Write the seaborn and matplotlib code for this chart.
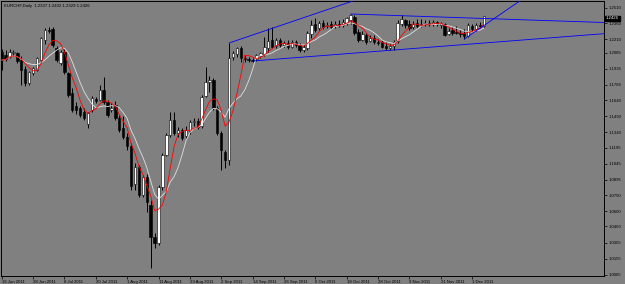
import numpy as np
import pandas as pd
import matplotlib
matplotlib.use("Agg")
import matplotlib.pyplot as plt
import matplotlib.transforms as mtransforms
import seaborn as sns

caption = "EURCHF,Daily  1.2337 1.2432 1.2329 1.2426"
first_date = "2011-06-16"

opens = [
    1.2092, 1.2064, 1.2045, 1.2083, 1.2083, 1.2017, 1.1933, 1.1801, 1.1895, 1.1923,
    1.2017, 1.2205, 1.2299, 1.2308, 1.2130, 1.1989, 1.2092, 1.1895, 1.1708, 1.1586,
    1.1567, 1.1529, 1.1417, 1.1548, 1.1651, 1.1642, 1.1736, 1.1623, 1.1548, 1.1595,
    1.1473, 1.1379, 1.1295, 1.1211, 1.0854, 1.1014, 1.0751, 1.0920, 1.0657, 1.0357,
    1.0301, 1.0826, 1.1126, 1.1314, 1.1454, 1.1332, 1.1361, 1.1304, 1.1351, 1.1436,
    1.1445, 1.1398, 1.1680, 1.1811, 1.1830, 1.1567, 1.1332, 1.1154, 1.1079, 1.2045,
    1.2073, 1.2130, 1.2036, 1.2027, 1.2017, 1.2027, 1.2055, 1.2073, 1.2130, 1.2205,
    1.2149, 1.2205, 1.2158, 1.2177, 1.2139, 1.2186, 1.2158, 1.2111, 1.2130, 1.2261,
    1.2355, 1.2317, 1.2364, 1.2336, 1.2355, 1.2336, 1.2355, 1.2346, 1.2364, 1.2392,
    1.2421, 1.2280, 1.2205, 1.2252, 1.2195, 1.2224, 1.2186, 1.2186, 1.2149, 1.2130,
    1.2149, 1.2195, 1.2355, 1.2392, 1.2355, 1.2327, 1.2364, 1.2346, 1.2355, 1.2364,
    1.2355, 1.2374, 1.2346, 1.2355, 1.2261, 1.2299, 1.2280, 1.2270, 1.2270, 1.2242,
    1.2336, 1.2308, 1.2346, 1.2337]

highs = [
    1.2120, 1.2111, 1.2120, 1.2111, 1.2092, 1.2055, 1.1961, 1.1914, 1.1952, 1.2045,
    1.2233, 1.2317, 1.2327, 1.2327, 1.2149, 1.2111, 1.2120, 1.1905, 1.1754, 1.1623,
    1.1586, 1.1567, 1.1529, 1.1680, 1.1670, 1.1783, 1.1858, 1.1642, 1.1614, 1.1633,
    1.1501, 1.1492, 1.1332, 1.1239, 1.1051, 1.1032, 1.0939, 1.0948, 1.0704, 1.0394,
    1.0845, 1.1145, 1.1332, 1.1529, 1.1529, 1.1389, 1.1379, 1.1398, 1.1454, 1.1473,
    1.1473, 1.1689, 1.1952, 1.1867, 1.1848, 1.1586, 1.1351, 1.1173, 1.2177, 1.2102,
    1.2139, 1.2149, 1.2064, 1.2045, 1.2036, 1.2073, 1.2092, 1.2233, 1.2317, 1.2327,
    1.2224, 1.2224, 1.2195, 1.2205, 1.2205, 1.2205, 1.2177, 1.2167, 1.2289, 1.2392,
    1.2411, 1.2383, 1.2392, 1.2374, 1.2383, 1.2383, 1.2392, 1.2402, 1.2421, 1.2449,
    1.2439, 1.2308, 1.2289, 1.2270, 1.2252, 1.2252, 1.2214, 1.2205, 1.2186, 1.2167,
    1.2205, 1.2392, 1.2439, 1.2402, 1.2392, 1.2383, 1.2402, 1.2402, 1.2392, 1.2392,
    1.2392, 1.2383, 1.2374, 1.2364, 1.2317, 1.2327, 1.2336, 1.2299, 1.2308, 1.2364,
    1.2355, 1.2364, 1.2374, 1.2432]

lows = [
    1.1923, 1.2008, 1.2036, 1.2055, 1.1989, 1.1783, 1.1773, 1.1783, 1.1877, 1.1914,
    1.2008, 1.2167, 1.2270, 1.2139, 1.1998, 1.1970, 1.1886, 1.1670, 1.1529, 1.1511,
    1.1483, 1.1454, 1.1379, 1.1529, 1.1614, 1.1633, 1.1604, 1.1483, 1.1529, 1.1454,
    1.1342, 1.1276, 1.1173, 1.0798, 1.0798, 1.0732, 1.0732, 1.0591, 1.0066, 1.0254,
    1.0282, 1.0798, 1.1117, 1.1295, 1.1314, 1.1295, 1.1267, 1.1286, 1.1323, 1.1398,
    1.1370, 1.1379, 1.1670, 1.1717, 1.1548, 1.1314, 1.0985, 1.1004, 1.1032, 1.2017,
    1.2045, 1.1998, 1.1998, 1.1998, 1.1998, 1.2008, 1.2036, 1.2055, 1.2092, 1.2130,
    1.2130, 1.2139, 1.2139, 1.2120, 1.2130, 1.2139, 1.2092, 1.2092, 1.2111, 1.2224,
    1.2280, 1.2299, 1.2308, 1.2317, 1.2308, 1.2317, 1.2327, 1.2327, 1.2346, 1.2355,
    1.2252, 1.2186, 1.2195, 1.2167, 1.2186, 1.2167, 1.2158, 1.2130, 1.2111, 1.2111,
    1.2111, 1.2177, 1.2336, 1.2317, 1.2299, 1.2308, 1.2317, 1.2327, 1.2336, 1.2336,
    1.2336, 1.2336, 1.2317, 1.2242, 1.2252, 1.2252, 1.2261, 1.2233, 1.2214, 1.2233,
    1.2289, 1.2289, 1.2317, 1.2329]

closes = [
    1.2017, 1.2027, 1.2092, 1.2092, 1.2008, 1.1923, 1.1801, 1.1905, 1.1942, 1.2036,
    1.2224, 1.2299, 1.2289, 1.2158, 1.2017, 1.2092, 1.1905, 1.1689, 1.1548, 1.1548,
    1.1501, 1.1473, 1.1520, 1.1661, 1.1633, 1.1736, 1.1623, 1.1501, 1.1567, 1.1473,
    1.1361, 1.1295, 1.1211, 1.0835, 1.1014, 1.0751, 1.0920, 1.0685, 1.0357, 1.0301,
    1.0826, 1.1126, 1.1314, 1.1454, 1.1332, 1.1361, 1.1286, 1.1361, 1.1436, 1.1445,
    1.1389, 1.1670, 1.1811, 1.1830, 1.1567, 1.1332, 1.1173, 1.1079, 1.2036, 1.2083,
    1.2130, 1.2036, 1.2027, 1.2017, 1.2012, 1.2064, 1.2083, 1.2139, 1.2195, 1.2139,
    1.2205, 1.2158, 1.2177, 1.2139, 1.2186, 1.2158, 1.2111, 1.2139, 1.2270, 1.2346,
    1.2299, 1.2364, 1.2327, 1.2346, 1.2327, 1.2355, 1.2346, 1.2374, 1.2411, 1.2439,
    1.2270, 1.2205, 1.2261, 1.2186, 1.2224, 1.2186, 1.2177, 1.2139, 1.2130, 1.2149,
    1.2186, 1.2364, 1.2402, 1.2346, 1.2317, 1.2355, 1.2336, 1.2355, 1.2364, 1.2355,
    1.2374, 1.2355, 1.2364, 1.2252, 1.2289, 1.2270, 1.2270, 1.2261, 1.2242, 1.2346,
    1.2308, 1.2346, 1.2336, 1.2426]

fast_period = 5
slow_period = 8

x_tick_labels = ["16 Jun 2011", "28 Jun 2011", "8 Jul 2011", "20 Jul 2011",
                 "1 Aug 2011", "11 Aug 2011", "23 Aug 2011", "2 Sep 2011",
                 "14 Sep 2011", "26 Sep 2011", "6 Oct 2011", "18 Oct 2011",
                 "28 Oct 2011", "9 Nov 2011", "21 Nov 2011", "1 Dec 2011"]
y_tick_values = [1.2510, 1.2360, 1.2210, 1.2085, 1.1935, 1.1785, 1.1640, 1.1490,
                 1.1340, 1.1195, 1.1045, 1.0895, 1.0750, 1.0600, 1.0460, 1.0305,
                 1.0155, 1.0005]

trend_start_dates = ["2011-09-06", "2011-09-14", "2011-10-19", "2011-11-29"]
trend_start_prices = [1.2177, 1.2008, 1.2449, 1.2214]
trend_end_dates = ["2011-10-19", "2011-11-03", "2011-11-07", "2011-12-06"]
trend_end_prices = [1.2564, 1.2111, 1.2433, 1.2340]

# ---------------------------------------------------------------
sns.set_theme(style="white")
plt.rcParams["font.family"] = ["Liberation Sans", "DejaVu Sans"]

n = len(closes)
dates = pd.bdate_range(first_date, periods=n)
df = pd.DataFrame({"date": dates, "open": opens, "high": highs,
                   "low": lows, "close": closes})
df["i"] = np.arange(n)
df["ma_fast"] = df["close"].rolling(fast_period, min_periods=1).mean()
df["ma_slow"] = df["close"].rolling(slow_period, min_periods=1).mean()
date_index = {d: k for k, d in enumerate(dates)}

W, H = 625, 284
bg = "#808080"
fig = plt.figure(figsize=(W / 100, H / 100), dpi=100)
fig.patch.set_facecolor(bg)
ax = fig.add_axes([1 / W, 8 / H, 603 / W, 275 / H])
ax.set_facecolor(bg)

x_left, x_right = -0.18, 153.65
y_low, y_high = 0.99911, 1.2571

up = (df["close"] >= df["open"]).to_numpy()
ax.vlines(df["i"], df["low"], df["high"], color="black", linewidth=0.7, zorder=2)
body_bottom = np.minimum(df["open"], df["close"])
body_h = np.abs(df["close"] - df["open"])
ax.bar(df["i"], body_h, bottom=body_bottom, width=0.6,
       color=np.where(up, "white", "black"), edgecolor="black",
       linewidth=0.4, zorder=3)

sns.lineplot(data=df, x="i", y="ma_slow", color="#e0e0e0", linewidth=0.6,
             ax=ax, zorder=4)
sns.lineplot(data=df, x="i", y="ma_fast", color="#ff0000", linewidth=0.6,
             ax=ax, zorder=5)

for sd, sp, ed, ep in zip(trend_start_dates, trend_start_prices,
                          trend_end_dates, trend_end_prices):
    b0 = date_index[pd.Timestamp(sd)]
    b1 = date_index[pd.Timestamp(ed)]
    slope = (ep - sp) / (b1 - b0)
    ax.plot([b0, x_right], [sp, sp + slope * (x_right - b0)],
            color="#0000ff", linewidth=0.6, zorder=6)

ax.set_xlim(x_left, x_right)
ax.set_ylim(y_low, y_high)
ax.set_xlabel("")
ax.set_ylabel("")

fs = 3.1
xpos = [date_index[pd.to_datetime(lbl)] for lbl in x_tick_labels]
ax.set_xticks(xpos)
ax.set_xticklabels(x_tick_labels, ha="left", fontsize=fs, color="black")
shift = mtransforms.ScaledTranslation(1 / 100, 0, fig.dpi_scale_trans)
for lbl in ax.get_xticklabels():
    lbl.set_transform(lbl.get_transform() + shift)
ax.tick_params(axis="x", length=2.5, width=0.5, pad=0.6, colors="black",
               direction="out", bottom=True)

ax.yaxis.tick_right()
ax.set_yticks(y_tick_values)
ax.set_yticklabels([f"{v:.4f}" for v in y_tick_values], fontsize=fs,
                   color="black")
ax.tick_params(axis="y", length=2, width=0.5, pad=1, colors="black",
               direction="out", right=True, left=False)

for s in ax.spines.values():
    s.set_color("black")
    s.set_linewidth(0.7)

fig.text(4 / W, 1 - 6 / H, caption, fontsize=fs, ha="left", va="center",
         color="black")

trans = mtransforms.blended_transform_factory(ax.transAxes, ax.transData)
ax.text(1.0 + 2 / 603, closes[-1], f"{closes[-1]:.4f}", transform=trans,
        fontsize=fs, color="white", ha="left", va="top",
        bbox=dict(boxstyle="square,pad=0.2", fc="black", ec="black"), zorder=10)

fig.savefig("out.png", dpi=100, facecolor=bg)
